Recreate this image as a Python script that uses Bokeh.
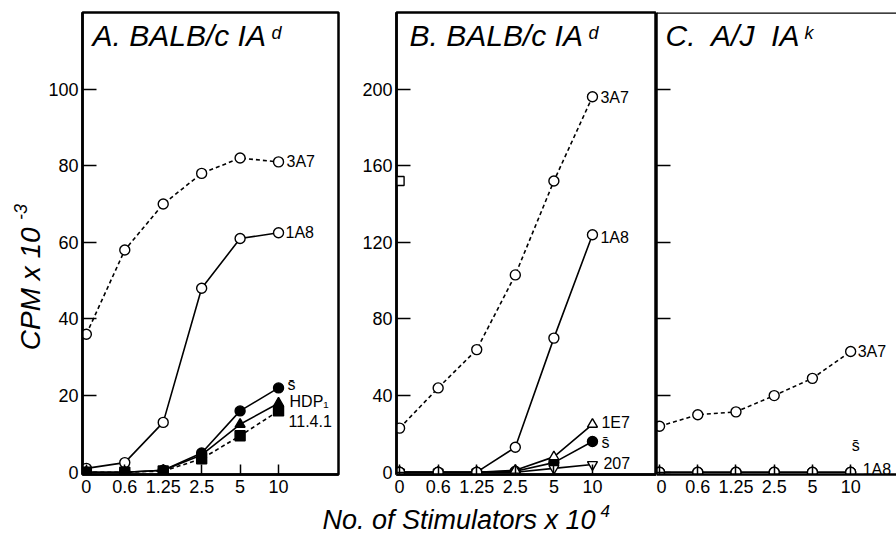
from bokeh.plotting import figure
from bokeh.models import Range1d, FixedTicker, Label, Span, ColumnDataSource
from bokeh.layouts import row, column
from bokeh.embed import file_html
from bokeh.resources import INLINE
from bokeh.core.properties import value
import math

# ---------------- data ----------------
stim = ["0", "0.6", "1.25", "2.5", "5", "10"]

a_3a7 = [36, 58, 70, 78, 82, 81]
a_1a8 = [1, 2.5, 13, 48, 61, 62.5]
a_sbar = [0, 0, 0.5, 5, 16, 22]
a_hdp1 = [0, 0, 0.5, 4.5, 12.5, 18]
a_1141 = [0, 0, 0.3, 3.5, 9.5, 16]

b_3a7 = [23, 44, 64, 103, 152, 196]
b_1a8 = [0, 0, 0, 13, 70, 124]
b_1e7 = [0, 0, 0, 1, 8, 25]
b_sbar = [0, 0, 0, 0.5, 5, 16]
b_207 = [0, 0, 0, 0, 2, 4]
b_square_x = ["0"]
b_square_y = [152]

c_3a7 = [24, 30, 31.5, 40, 49, 63]
c_sbar = [0, 0, 0, 0, 0, 0]
c_1a8 = [0, 0, 0, 0, 0, 0]

a_yticks = [0, 20, 40, 60, 80, 100]
b_yticks = [0, 40, 80, 120, 160, 200]

y_title = "CPM x 10"
y_title_sup = "-3"
x_title = "No. of Stimulators x 10"
x_title_sup = "4"

FONT = "Liberation Sans"
xpos = list(range(len(stim)))
H = 500


def make_fig(width, bl, br, xr, yr, yticks, ylabels=True, outline=True):
    p = figure(width=width, height=H, x_range=Range1d(*xr), y_range=Range1d(*yr),
               output_backend="svg", toolbar_location=None,
               min_border_left=bl, min_border_right=br, min_border_top=12,
               min_border_bottom=26)
    p.grid.visible = False
    if outline:
        p.outline_line_color = "black"
        p.outline_line_width = 2.5
        p.outline_line_alpha = 1
    else:
        p.outline_line_color = None
    xa = p.xaxis[0]
    xa.ticker = FixedTicker(ticks=xpos)
    xa.major_label_overrides = {i: s for i, s in zip(xpos, stim)}
    xa.major_tick_in = 10
    xa.major_tick_out = 0
    xa.major_tick_line_width = 1.5
    xa.minor_tick_line_color = None
    xa.axis_line_width = 2.5
    xa.major_label_text_font = FONT
    xa.major_label_text_font_size = "18px"
    xa.major_label_text_color = "black"
    xa.major_label_standoff = 5
    ya = p.yaxis[0]
    ya.ticker = FixedTicker(ticks=yticks)
    ya.major_tick_in = 14
    ya.major_tick_out = 0
    ya.major_tick_line_width = 1.5
    ya.minor_tick_line_color = None
    ya.axis_line_width = 2.5
    ya.major_label_text_font = FONT
    ya.major_label_text_font_size = "18px"
    ya.major_label_text_color = "black"
    ya.major_label_standoff = 4
    if not ylabels:
        ya.major_label_overrides = {t: "" for t in yticks}
        ya.major_label_standoff = 0
    return p


def series(p, ys, dash, marker, fill):
    line_dash = "4 3" if dash else "solid"
    p.line(xpos, ys, line_color="black", line_width=1.6, line_dash=line_dash)
    p.scatter(xpos, ys, marker=marker, size=10, line_color="black", line_width=1.4,
              fill_color=fill)


def labels(p, xs, ys, texts, dx, dy):
    src = ColumnDataSource(dict(x=xs, y=ys, t=texts, dx=dx, dy=dy))
    p.text(x="x", y="y", text="t", x_offset="dx", y_offset="dy", source=src,
           text_font=value(FONT), text_font_size="16px", text_baseline="middle",
           text_align="left", text_color="black")


def title(p, main, sup, x, supx):
    p.add_layout(Label(x=x, y=423, x_units="screen", y_units="screen", text=main,
                       text_font=FONT, text_font_size="30px", text_font_style="italic",
                       text_color="black"))
    p.add_layout(Label(x=supx, y=432, x_units="screen", y_units="screen", text=sup,
                       text_font=FONT, text_font_size="18px", text_font_style="italic",
                       text_color="black"))


def text_fig(width, height):
    p = figure(width=width, height=height, x_range=Range1d(0, width),
               y_range=Range1d(0, height), output_backend="svg", toolbar_location=None,
               x_axis_location=None, y_axis_location=None, min_border=0, title=None)
    p.grid.visible = False
    p.outline_line_color = None
    return p


# ---------------- y title ----------------
pyt = text_fig(44, H)
pyt.text(x=[30], y=[H - 299], text=[y_title], angle=math.pi / 2, text_align="center",
         text_baseline="middle", text_font=value(FONT), text_font_size="28px",
         text_font_style="italic", text_color="black")
pyt.text(x=[20], y=[H - 216], text=[y_title_sup], angle=math.pi / 2, text_align="center",
         text_baseline="middle", text_font=value(FONT), text_font_size="18px",
         text_font_style="italic", text_color="black")

# ---------------- panel A ----------------
pa = make_fig(301, 38, 7, (-0.1, 6.56), (-0.6, 120), a_yticks)
series(pa, a_3a7, True, "circle", "white")
series(pa, a_1a8, False, "circle", "white")
series(pa, a_1141, True, "square", "black")
series(pa, a_hdp1, False, "triangle", "black")
series(pa, a_sbar, False, "circle", "black")
labels(pa, [5, 5, 5, 5, 5], [a_3a7[5], a_1a8[5], a_sbar[5], a_hdp1[5], a_1141[5]],
       ["3A7", "1A8", "s\u0304", "HDP\u2081", "11.4.1"], [8, 7, 9, 11, 10], [0, 0, -3, -2, 10])
title(pa, "A. BALB/c IA", "d", 10, 189)

# ---------------- panel B ----------------
pb = make_fig(311, 51, 0, (-0.08, 6.66), (-1.2, 240), b_yticks)
series(pb, b_sbar, False, "circle", "black")
series(pb, b_3a7, True, "circle", "white")
series(pb, b_207, False, "inverted_triangle", "white")
series(pb, b_1e7, False, "triangle", "white")
series(pb, b_1a8, False, "circle", "white")
pb.scatter([stim.index(s) for s in b_square_x], b_square_y, marker="square", size=9,
           line_color="black", line_width=1.4, fill_color="white")
labels(pb, [5, 5, 5, 5, 5], [b_3a7[5], b_1a8[5], b_1e7[5], b_sbar[5], b_207[5]],
       ["3A7", "1A8", "1E7", "s\u0304", "207"], [8, 8, 9, 9, 11], [1, 3, -2, 1, -2])
title(pb, "B. BALB/c IA", "d", 13, 192)

# ---------------- panel C ----------------
pc = make_fig(240, 0, 0, (-0.08, 6.2), (-1.2, 240), b_yticks, ylabels=False, outline=False)
pc.add_layout(Span(location=240, dimension="width", line_color="black", line_width=2.5))
series(pc, c_3a7, True, "circle", "white")
series(pc, c_sbar, False, "circle", "black")
series(pc, c_1a8, False, "circle", "white")
labels(pc, [5, 5, 5], [c_3a7[5], c_sbar[5], c_1a8[5]], ["3A7", "s\u0304", "1A8"],
       [7, 1, 12], [0, -27, -3])
title(pc, "C.\u00a0 A/J\u00a0 IA", "k", 9, 148)

# ---------------- x title ----------------
pxt = text_fig(896, 38)
pxt.text(x=[322], y=[19], text=[x_title], text_align="left", text_baseline="middle",
         text_font=value(FONT), text_font_size="27px", text_font_style="italic",
         text_color="black")
pxt.text(x=[600], y=[28], text=[x_title_sup], text_align="left", text_baseline="middle",
         text_font=value(FONT), text_font_size="17px", text_font_style="italic",
         text_color="black")

layout = column(row(pyt, pa, pb, pc, spacing=0), pxt, spacing=0)
open("out.html", "w").write(file_html(layout, INLINE))
